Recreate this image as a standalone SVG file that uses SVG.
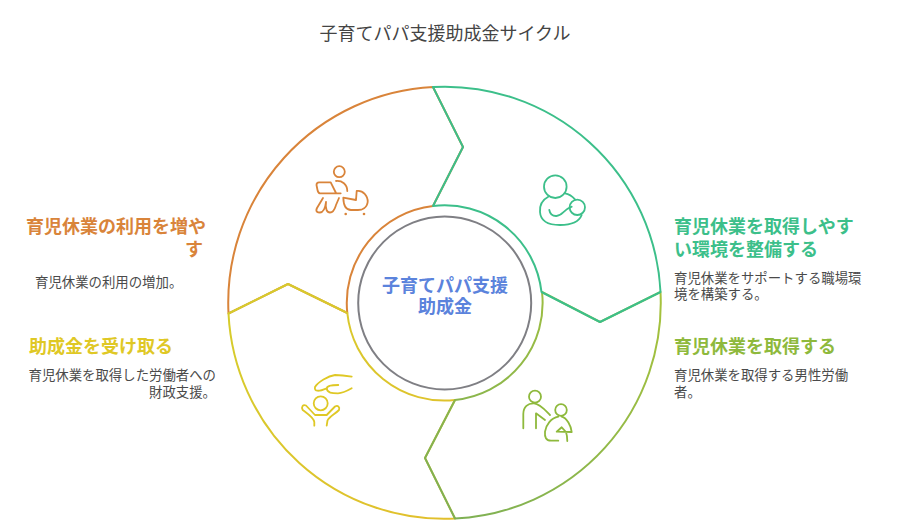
<svg xmlns="http://www.w3.org/2000/svg" width="904" height="530" viewBox="0 0 904 530">
<style>
text{font-family:"Noto Sans CJK JP","Noto Sans",sans-serif}
.seg,.ic{fill:none;stroke-width:2;stroke-linecap:round;stroke-linejoin:round}
.ic{stroke-width:1.8}
.h{font-size:18px;font-weight:700}
.d{font-size:13.4px;fill:#4a4a4a}
.gr{stroke:#3cbf8a}.ol{stroke:#8eb93c}.ye{stroke:#dfc825}.or{stroke:#d9843a}
.dot{fill:#d9843a}
</style>
<defs>
<linearGradient id="gOl" gradientUnits="userSpaceOnUse" x1="660" y1="292" x2="455" y2="518"><stop offset="0" stop-color="#a6c23c"/><stop offset="1" stop-color="#7eb054"/></linearGradient>
<linearGradient id="gYe" gradientUnits="userSpaceOnUse" x1="228" y1="314" x2="455" y2="518"><stop offset="0" stop-color="#d6cc2c"/><stop offset="1" stop-color="#e2bf2c"/></linearGradient>
</defs>
<text x="445" y="40" text-anchor="middle" font-size="18" fill="#444">子育てパパ支援助成金サイクル</text>
<g id="connectors">
<path id="seg-orange" class="seg or" d="M228.500 313.500A216 216 0 0 1 433 87L463 147L433 206A97.500 97.500 0 0 0 347.300 313L288 284Z"/>
<path id="seg-yellow" class="seg" stroke="url(#gYe)" d="M455 518.500A216 216 0 0 1 228.500 313.500L288 284L347.300 313A97.500 97.500 0 0 0 455 400L425 458Z"/>
<path id="seg-olive" class="seg" stroke="url(#gOl)" d="M660.500 292A216 216 0 0 1 455 518.500L425 458L455 400A97.500 97.500 0 0 0 542 292L600 322Z"/>
<path id="seg-green" class="seg gr" d="M433 87A216 216 0 0 1 660.500 292L600 322L541.500 292A97.500 97.500 0 0 0 433 206L463 147Z"/>
</g>
<g id="node-center">
<circle cx="444.700" cy="303" r="86.500" fill="#fff" stroke="#7f7f84" stroke-width="2"/>
<text text-anchor="middle" font-size="18" font-weight="700" fill="#5b83dc"><tspan x="445" y="292">子育てパパ支援</tspan><tspan x="445" y="313">助成金</tspan></text>
</g>
<g id="node-green">
<g class="ic gr"><circle cx="555.300" cy="186.700" r="11.300"/><path d="M548.300 196.700C542 200 539.500 206 540 212C540.500 220 547 225 560 225C570 225 579 222 581.700 215"/><path d="M565 193.300C569 194 573 197 575 199.300"/><circle cx="577.300" cy="207.300" r="7.700"/><path d="M549.300 210C550 214 552 216 556 216C562 216.500 563 210 571.700 206.700"/></g>
<text class="h" fill="#3cbf8a"><tspan x="674" y="233">育児休業を取得しやす</tspan><tspan x="674" y="256">い環境を整備する</tspan></text>
<text class="d"><tspan x="674" y="283">育児休業をサポートする職場環</tspan><tspan x="674" y="299">境を構築する。</tspan></text>
</g>
<g id="node-olive">
<g class="ic ol"><circle cx="535" cy="396.700" r="6"/><path d="M523.300 428.300V414C523.300 407 528 403 534 403.300C540 403.500 546 411 550 415"/><path d="M536 428.300V413.300L545 420"/><circle cx="561" cy="410" r="5.800"/><path d="M558.300 416.700C551 418 546 425 545 431.700C544.500 437 546 440.700 551 440.700H558.300"/><path d="M561.700 416.700C567 418 571 426 571.700 432L556.700 431.700L561.700 427.300L566 432C567 435 567.300 438 567.300 441"/></g>
<text class="h" x="674" y="353" fill="#8eb93c">育児休業を取得する</text>
<text class="d"><tspan x="674" y="380">育児休業を取得する男性労働</tspan><tspan x="674" y="397">者。</tspan></text>
</g>
<g id="node-yellow">
<g class="ic ye"><circle cx="320.700" cy="403.300" r="7"/><path d="M351.700 376.700C345 375.500 340 375 335 375C328 376 318 382 315 387C314 392 319 391.500 326.700 388.300"/><path d="M351.700 388.300C347 391 343 393.300 338 393.300C332 393.300 327 393 326.700 388.300C327 385.500 333 385 338.300 385"/><path d="M314.300 425.700V422C314 418 308 414 302.700 410C301 407 303 404 306 405.500L315 415H326.700L335 406.500C338 405 340 407 339 410C335 414 329 417 327.500 420.500L326.700 425.700"/></g>
<text class="h" x="29" y="353" fill="#dfc825">助成金を受け取る</text>
<text class="d" text-anchor="end"><tspan x="216" y="380">育児休業を取得した労働者への</tspan><tspan x="216" y="397">財政支援。</tspan></text>
</g>
<g id="node-orange">
<g class="ic or"><circle cx="339.300" cy="171.700" r="5.500"/><path d="M336 181C342 180.500 347.300 184 347.300 191"/><path d="M340.700 193.300H320Q318 193 317.500 190L316.500 185Q316.500 182.300 319 182.300H330.700L336 193"/><path d="M323 198L317 208C315 212 318 212.500 320 212.500C323 212.500 325 210 326 202C325 209 327 212.500 330 212.500C334 212.500 335 208 336 205L339 198"/><path d="M343.300 197.700L356 200L356.700 191C363 190 368 196 367.700 202C367 208 362 210 358 210H351C346 210 343.500 205 343.300 197.700Z"/></g>
<circle class="dot" cx="345.700" cy="214" r="1.300"/><circle class="dot" cx="364" cy="214" r="1.300"/>
<text class="h" fill="#d9843a"><tspan x="26" y="233">育児休業の利用を増や</tspan><tspan x="185" y="256">す</tspan></text>
<text class="d" x="35" y="287">育児休業の利用の増加。</text>
</g>
</svg>
